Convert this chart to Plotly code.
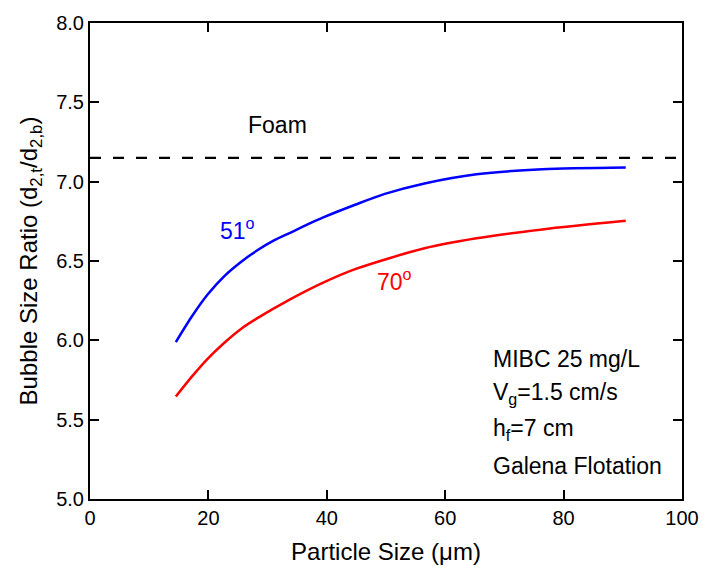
import plotly.graph_objects as go

x_51 = [14.5, 17.2, 19.9, 22.7, 25.5, 28.2, 31.0, 33.8, 39.3, 44.9, 49.8, 56.5, 65.3, 76.4, 90.5]
y_51 = [5.989, 6.150, 6.290, 6.405, 6.494, 6.566, 6.628, 6.678, 6.773, 6.856, 6.923, 6.989, 7.047, 7.078, 7.089]
x_70 = [14.5, 17.2, 19.9, 22.7, 25.5, 28.2, 33.8, 39.3, 44.9, 56.5, 65.3, 76.4, 90.5]
y_70 = [5.646, 5.771, 5.885, 5.985, 6.072, 6.138, 6.258, 6.362, 6.45, 6.58, 6.643, 6.699, 6.753]
foam_level = 7.15

FONT = "Liberation Sans, Arial, sans-serif"

fig = go.Figure()
fig.add_trace(go.Scatter(x=[0, 100], y=[foam_level, foam_level], mode="lines",
                         line=dict(color="black", width=2.2, dash="11px,12px"), showlegend=False))
fig.add_trace(go.Scatter(x=x_51, y=y_51, mode="lines", line=dict(color="#0000ff", width=2.5, shape="spline", smoothing=0.8), showlegend=False))
fig.add_trace(go.Scatter(x=x_70, y=y_70, mode="lines", line=dict(color="#ff0000", width=2.5, shape="spline", smoothing=0.8), showlegend=False))

annos = [
    dict(x=24.9, y=6.70, text="51<sup>o</sup>", color="#0000ff", xanchor="center"),
    dict(x=51.5, y=6.38, text="70<sup>o</sup>", color="#ff0000", xanchor="center"),
    dict(x=31.7, y=7.36, text="Foam", color="black", xanchor="center"),
    dict(x=67.8, y=5.88, text="MIBC 25 mg/L", color="black", xanchor="left"),
    dict(x=67.8, y=5.665, text="V<sub>g</sub>=1.5 cm/s", color="black", xanchor="left"),
    dict(x=67.8, y=5.44, text="h<sub>f</sub>=7 cm", color="black", xanchor="left"),
    dict(x=67.8, y=5.21, text="Galena Flotation", color="black", xanchor="left"),
]
for a in annos:
    fig.add_annotation(x=a["x"], y=a["y"], text=a["text"], showarrow=False, xanchor=a["xanchor"],
                       yanchor="middle", font=dict(family=FONT, size=23, color=a["color"]))

axis_common = dict(showline=True, linecolor="black", linewidth=2, mirror="ticks", ticks="inside",
                   ticklen=9, tickwidth=2, tickcolor="black", showgrid=False, zeroline=False,
                   tickfont=dict(family=FONT, size=20, color="black"))
fig.update_xaxes(range=[0, 100], tickvals=[0, 20, 40, 60, 80, 100], ticktext=["0", "20", "40", "60", "80", "100"],
                 title=dict(text="Particle Size (\u03bcm)", font=dict(family=FONT, size=24, color="black"), standoff=15),
                 **axis_common)
fig.update_yaxes(range=[5.0, 8.0], tickvals=[5.0, 5.5, 6.0, 6.5, 7.0, 7.5, 8.0],
                 ticktext=["5.0", "5.5", "6.0", "6.5", "7.0", "7.5", "8.0"],
                 title=dict(text="Bubble Size Ratio (d<sub>2,t</sub>/d<sub>2,b</sub>)",
                            font=dict(family=FONT, size=24, color="black"), standoff=12),
                 **axis_common)
fig.update_layout(width=711, height=574, margin=dict(l=90, r=19, t=17, b=75),
                  plot_bgcolor="white", paper_bgcolor="white")
fig.write_html("out.html")
